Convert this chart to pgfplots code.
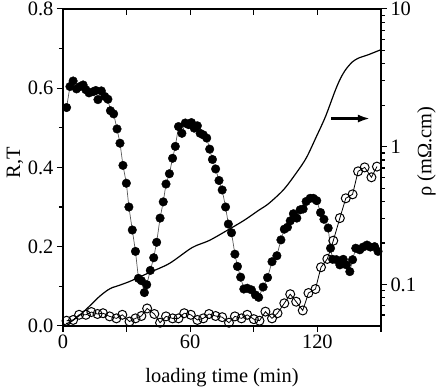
\documentclass[border=0pt]{standalone}
\usepackage{fontspec}
\setmainfont{Liberation Serif}
\usepackage{pgfplots}
\pgfplotsset{compat=1.18}
\usetikzlibrary{arrows.meta}

\newcommand{\bigfont}{\fontsize{20.5}{23}\selectfont}
\pgfplotsset{
  loadstyle/.style={
    width=318bp, height=317bp, scale only axis,
    xmin=0, xmax=150,
    axis line style={line width=1.4bp},
    major tick length=6bp, minor tick length=4bp,
    every tick/.style={black, line width=1.1bp},
    every minor tick/.style={black, line width=1.1bp},
    tick label style={font=\bigfont},
    label style={font=\bigfont},
  }
}

\begin{document}
\begin{tikzpicture}
\begin{axis}[loadstyle,
  ymin=0, ymax=0.8,
  tick align=outside,
  xtick pos=left, ytick pos=left,
  xtick={0,30,60,90,120,150}, xticklabels={0,,60,,120,},
  ytick={0,0.2,0.4,0.6,0.8}, yticklabels={0.0,0.2,0.4,0.6,0.8},
  minor ytick={0.1,0.3,0.5,0.7},
  xlabel={loading time (min)},
  xlabel style={at={(axis description cs:0.5,-0.164)}, anchor=center},
  ylabel={R,T},
  ylabel style={at={(axis description cs:-0.151,0.514)}, anchor=center},
  clip=false]
\coordinate (bbll) at (rel axis cs:-0.198,-0.202);
\coordinate (bbur) at (rel axis cs:1.173,1.028);
% R (filled)
\addplot[gray!70!black, line width=0.7bp, mark=*, mark size=4.3bp,
  mark options={fill=black, draw=black, line width=0.4bp}] coordinates {
(1.7,.551) (3.3,.604) (4.8,.618) (6.4,.598) (8.0,.604) (9.5,.608) (10.8,.596)
(12.3,.588) (14.2,.591) (15.5,.594) (16.5,.571) (18.1,.593) (19.7,.579)
(21.2,.572) (22.4,.543) (23.9,.535) (25.5,.497) (26.9,.461) (28.3,.405)
(29.9,.360) (31.1,.300) (32.7,.242) (34.2,.188) (35.6,.120) (37.0,.114)
(38.4,.084) (39.5,.104) (41.2,.140) (42.8,.172) (44.2,.211) (45.8,.272)
(47.3,.313) (48.6,.358) (50.2,.384) (51.7,.423) (53.0,.453) (54.5,.503)
(56.1,.486) (57.7,.512) (59.2,.508) (60.6,.513) (61.9,.499) (63.4,.505)
(64.7,.486) (66.2,.482) (67.8,.474) (69.2,.446) (70.5,.420) (72.0,.396)
(73.6,.367) (75.1,.343) (76.7,.300) (78.0,.257) (79.5,.235) (81.1,.181)
(82.3,.150) (83.8,.123) (85.3,.093) (86.9,.095) (88.9,.091) (90.8,.078)
(92.3,.072) (94.4,.098) (96.5,.122) (98.6,.162) (100.9,.177) (102.8,.217)
(104.4,.244) (105.9,.249) (107.2,.265) (108.7,.283) (110.3,.272) (111.9,.293)
(113.3,.295) (114.7,.314) (116.6,.322) (118.1,.322) (119.7,.316) (121.5,.286)
(123.1,.269) (125.1,.247) (126.2,.196) (127.2,.168) (129.0,.167) (130.6,.154)
(132.2,.168) (133.7,.154) (135.3,.137) (136.6,.167) (138.1,.196) (140.0,.192)
(141.6,.199) (143.4,.204) (145.0,.199) (147.0,.200) (148.6,.188)
};
% T (open)
\addplot[black, line width=0.8bp, mark=o, mark size=4.5bp,
  mark options={fill=white, draw=black, line width=1bp}] coordinates {
(1.7,.013) (4.8,.015) (7.6,.028) (10.8,.028) (13.4,.035) (16.3,.030)
(18.9,.032) (22.0,.024) (25.2,.019) (28.0,.028) (31.4,.011) (34.2,.019)
(37.0,.025) (39.7,.044) (43.1,.030) (45.8,.008) (48.6,.024) (51.7,.019)
(54.5,.019) (57.2,.032) (60.3,.028) (63.4,.015) (66.2,.019) (68.9,.030)
(72.0,.025) (75.1,.022) (78.3,.008) (81.1,.024) (84.2,.019) (86.9,.028)
(90.0,.017) (92.7,.013) (95.5,.036) (98.6,.019) (101.2,.032) (104.4,.057)
(107.2,.080) (110.0,.061) (113.1,.039) (115.8,.083) (119.1,.093) (121.7,.148)
(124.7,.169) (127.5,.215) (130.6,.272) (133.4,.322) (136.6,.332) (139.2,.390)
(142.3,.400) (145.5,.375) (148.1,.402)
};
\end{axis}

\begin{axis}[loadstyle,
  ymode=log, ymin=0.05, ymax=10,
  xtick pos=right, ytick pos=right,
  xtick align=inside, ytick align=outside,
  xtick={0,30,60,90,120,150}, xticklabels={},
  ytick={0.1,1,10}, yticklabels={0.1,1,10},
  minor ytick={0.06,0.07,0.08,0.09,0.2,0.3,0.4,0.5,0.6,0.7,0.8,0.9,2,3,4,5,6,7,8,9},
  ylabel={ρ (mΩ.cm)},
  ylabel style={at={(axis description cs:1.143,0.549)}, anchor=center}]
\addplot[black, line width=1.2bp, no marks, smooth] coordinates {
(1.4,.052) (3.3,.053) (8.0,.060) (12.7,.070) (17.3,.082) (21.1,.091)
(23.4,.095) (25.3,.097) (31.4,.105) (40.8,.122) (50.2,.142) (60.9,.185)
(68.9,.208) (76.9,.244) (85.3,.291) (92.3,.345) (97.0,.386) (104.1,.488)
(110.2,.649) (114.8,.83) (119.5,1.18) (123.8,1.65) (128.4,2.55) (131.0,3.15)
(133.5,3.65) (136.5,4.12) (139.5,4.40) (143.9,4.64) (149.9,5.05)
};
\draw[-{Latex[length=12bp,width=8bp]}, line width=2.2bp]
  (axis cs:126.6,1.6) -- (axis cs:144.8,1.6);
\end{axis}
\pgfresetboundingbox
\path[use as bounding box] (bbll) rectangle (bbur);
\end{tikzpicture}
\end{document}
